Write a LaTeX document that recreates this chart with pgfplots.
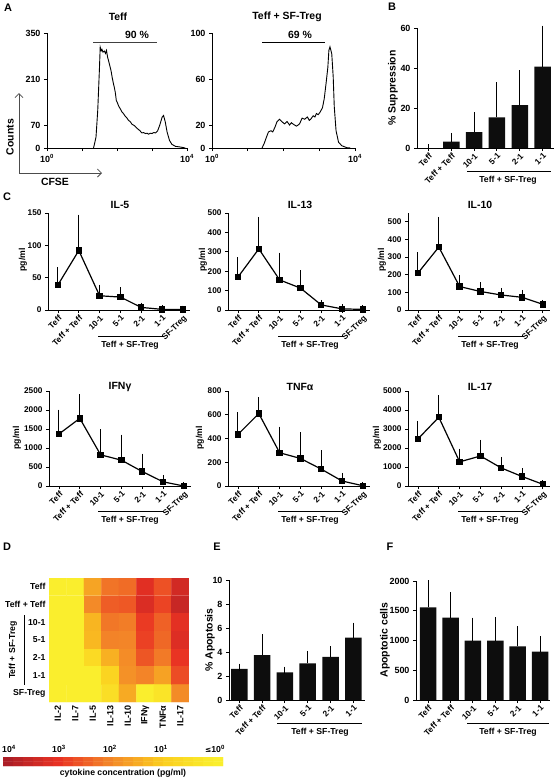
\documentclass[border=0pt]{standalone}
\usepackage{fontspec}
\setmainfont{Liberation Sans}
\newfontfamily\dejavu{DejaVu Sans}
\usepackage{pgfplots}
\pgfplotsset{compat=1.18}
\usetikzlibrary{arrows.meta}
\newcommand{\tf}{\fontsize{9}{10}\selectfont\bfseries}
\newcommand{\tfc}{\fontsize{8.3}{9}\selectfont\bfseries}
\newcommand{\af}{\fontsize{8.7}{10}\selectfont\bfseries}
\newcommand{\ttl}{\fontsize{10.5}{12}\selectfont\bfseries}
\newcommand{\pl}{\fontsize{11}{13}\selectfont\bfseries}
\newcommand{\yl}{\fontsize{10.5}{12}\selectfont\bfseries}
\pgfplotsset{
 base/.style={scale only axis, anchor=north west,
   axis x line*=bottom, axis y line*=left,
   axis line style={line width=1bp, black},
   every tick/.style={line width=0.9bp, black},
   tick align=outside, major tick length=3bp,
   ticklabel style={font=\tf},
   /pgf/number format/assume math mode=true,
   /pgf/number format/1000 sep={},
   clip=false},
 hist/.style={base, xmin=0, xmax=4, xtick={0,...,4},
   xticklabels={10\textsuperscript{0},,,,10\textsuperscript{4}},
   ymin=0, height=115bp},
 cat/.style={base, ticklabel style={font=\tfc}, xtick={0,...,6},
   xticklabels={Teff,Teff + Teff,10-1,5-1,2-1,1-1,SF-Treg},
   xticklabel style={rotate=45, anchor=north east, inner sep=1bp},
   xmin=-0.48, xmax=6.34, ymin=0, width=142bp},
 bcat/.style={base, xtick={0,...,5},
   xticklabels={Teff,Teff + Teff,10-1,5-1,2-1,1-1},
   xticklabel style={rotate=45, anchor=north east, inner sep=1bp, font=\tfc},
   ymin=0},
 lp/.style={black, line width=1.2bp, mark=square*, mark size=2.6bp,
   error bars/.cd, y dir=plus, y explicit,
   error bar style={line width=1bp, black},
   error mark options={line width=1bp, mark size=3.5bp, black}},
 barp/.style={ybar, bar width=16.5bp, bar shift=0pt, fill=black!95, draw=none,
   error bars/.cd, y dir=plus, y explicit,
   error bar style={line width=1bp, black},
   error mark options={line width=1bp, mark size=3.5bp, black}},
 cyto/.style={colormap={cyto}{rgb255=(250,238,45) rgb255=(251,205,30) rgb255=(243,135,40) rgb255=(233,50,35) rgb255=(172,30,38)},
   point meta min=0, point meta max=4}
}
\begin{document}
\begin{tikzpicture}
\useasboundingbox (0,0) rectangle (558bp,-781bp);

% ---------------- Panel A ----------------
\node[font=\pl] at (8bp,-8bp) {A};
\node[font=\ttl] at (118bp,-17bp) {Teff};
\node[font=\ttl] at (287bp,-17bp) {Teff + SF-Treg};
\begin{axis}[hist, at={(47bp,-33bp)}, width=140bp, ymax=350, ytick={0,70,210,350}]
\addplot[black, line width=0.9bp] coordinates {
(1.33,0) (1.40,33) (1.45,115) (1.50,246) (1.52,307) (1.55,296) (1.57,300) (1.60,292) (1.64,295)
(1.67,288) (1.70,297) (1.73,277) (1.76,265) (1.79,252) (1.83,235) (1.86,216) (1.89,200) (1.92,186)
(1.95,170) (1.98,145) (2.01,138) (2.05,127) (2.09,120) (2.14,110) (2.19,104) (2.24,96) (2.28,92)
(2.33,84) (2.38,80) (2.43,72) (2.47,70) (2.52,66) (2.57,60) (2.62,56) (2.66,52) (2.71,46)
(2.76,47) (2.81,44) (2.86,45) (2.90,42) (2.95,45) (3.00,44) (3.05,47) (3.10,46) (3.16,52)
(3.22,69) (3.29,94) (3.33,99) (3.38,79) (3.43,49) (3.50,23) (3.57,11) (3.67,5) (3.81,3) (3.95,0)};
\end{axis}
\begin{axis}[hist, at={(212bp,-33bp)}, width=143bp, ymax=100, ytick={0,20,60,100}]
\addplot[black, line width=0.9bp] coordinates {
(1.40,0) (1.46,4) (1.53,10) (1.58,14) (1.65,15) (1.70,14) (1.76,18) (1.82,23) (1.89,25) (1.95,23)
(2.03,21) (2.10,23) (2.17,20) (2.22,22) (2.26,21) (2.31,20) (2.36,19) (2.41,20) (2.45,21) (2.52,26)
(2.59,25) (2.67,27) (2.72,24) (2.76,25) (2.83,28) (2.88,27) (2.92,30) (2.97,29) (3.02,31) (3.09,35)
(3.14,43) (3.19,56) (3.24,70) (3.27,85) (3.30,88) (3.35,82) (3.39,62) (3.42,36) (3.47,15) (3.54,5)
(3.63,2) (3.77,0.3) (3.87,0)};
\end{axis}
\draw[line width=0.9bp, black!75] (93bp,-42bp) -- (157bp,-42bp);
\node[font=\ttl] at (137bp,-35bp) {90 \%};
\draw[line width=0.9bp, black] (262bp,-42bp) -- (325bp,-42bp);
\node[font=\ttl] at (300bp,-35bp) {69 \%};
\draw[line width=0.8bp, black!70, -{Straight Barb[length=4bp,width=8bp]}] (19bp,-173bp) -- (19bp,-93bp);
\draw[line width=0.8bp, black!70, -{Straight Barb[length=4bp,width=8bp]}] (19bp,-173bp) -- (102bp,-173bp);
\node[font=\yl, rotate=90] at (10bp,-137bp) {Counts};
\node[font=\yl] at (55bp,-182bp) {CFSE};

% ---------------- Panel B ----------------
\node[font=\pl] at (392bp,-7bp) {B};
\begin{axis}[bcat, at={(417bp,-28bp)}, width=137bp, height=120bp, xmin=-0.5, xmax=5.5, ymax=60, ytick={0,20,40,60}]
\addplot[barp] coordinates {(0,0) +- (0,0) (1,3.2) +- (0,2.6) (2,8) +- (0,8) (3,15.3) +- (0,15.7) (4,21.5) +- (0,15.5) (5,40.7) +- (0,18.8)};
\end{axis}
\node[font=\yl, rotate=90] at (393bp,-88bp) {\% Suppression};
\draw[line width=1bp] (467bp,-171bp) -- (551bp,-171bp);
\node[font=\af] at (508bp,-180bp) {Teff + SF-Treg};

% ---------------- Panel C ----------------
\node[font=\pl] at (7bp,-197bp) {C};
% row 1
\begin{axis}[cat, at={(48bp,-213bp)}, height=97bp, ymax=150, ytick={0,50,100,150}]
\addplot[lp] coordinates {(0,39) +- (0,22) (1,92) +- (0,50) (2,22) +- (0,12) (3,20) +- (0,10) (4,4) +- (0,2) (5,1) +- (0,1) (6,1) +- (0,0.5)};
\end{axis}
\begin{axis}[cat, at={(228bp,-213bp)}, height=97bp, ymax=500, ytick={0,100,...,500}]
\addplot[lp] coordinates {(0,170) +- (0,85) (1,315) +- (0,147) (2,155) +- (0,123) (3,113) +- (0,74) (4,26) +- (0,8) (5,6) +- (0,6) (6,3) +- (0,3)};
\end{axis}
\begin{axis}[cat, at={(408bp,-213bp)}, height=97bp, ymax=550, ytick={0,100,...,500}]
\addplot[lp] coordinates {(0,210) +- (0,98) (1,357) +- (0,151) (2,133) +- (0,47) (3,105) +- (0,32) (4,85) +- (0,20) (5,72) +- (0,23) (6,32) +- (0,6)};
\end{axis}
% row 2
\begin{axis}[cat, at={(49bp,-391bp)}, height=95bp, ymax=2500, ytick={0,500,...,2500}]
\addplot[lp] coordinates {(0,1370) +- (0,550) (1,1780) +- (0,540) (2,820) +- (0,580) (3,680) +- (0,580) (4,380) +- (0,380) (5,110) +- (0,90) (6,0) +- (0,15)};
\end{axis}
\begin{axis}[cat, at={(228bp,-391bp)}, height=95bp, ymax=800, ytick={0,200,...,800}]
\addplot[lp] coordinates {(0,435) +- (0,155) (1,610) +- (0,110) (2,280) +- (0,190) (3,232) +- (0,193) (4,142) +- (0,128) (5,42) +- (0,38) (6,2) +- (0,3)};
\end{axis}
\begin{axis}[cat, at={(408bp,-391bp)}, height=95bp, ymax=5000, ytick={0,1000,...,5000}]
\addplot[lp] coordinates {(0,2480) +- (0,770) (1,3620) +- (0,980) (2,1270) +- (0,510) (3,1580) +- (0,670) (4,950) +- (0,400) (5,500) +- (0,260) (6,90) +- (0,40)};
\end{axis}
\foreach \L/\T/\Y/\B/\P/\name in {48/205/260/336/23/IL-5, 228/205/260/336/203/IL-13, 408/205/260/336/382/IL-10, 48/387/438/511/17/IFNγ, 228/387/438/511/200/TNFα, 408/387/438/511/377/IL-17}{
  \node[font=\ttl] at (\L bp+72bp,-\T bp) {\name};
  \node[font=\af, rotate=90] at (\P bp,-\Y bp) {pg/ml};
  \draw[line width=1bp] (\L bp+50bp,-\B bp) -- (\L bp+115bp,-\B bp);
  \node[font=\af] at (\L bp+82bp,-\B bp-9bp) {Teff + SF-Treg};
}

% ---------------- Panel D ----------------
\node[font=\pl] at (7bp,-547bp) {D};
\begin{axis}[cyto, scale only axis, anchor=north west, at={(49bp,-578bp)}, width=140bp, height=124bp,
  xmin=-0.5, xmax=7.5, ymin=-0.5, ymax=6.5, y dir=reverse, enlargelimits=false,
  axis line style={draw=none}, major tick length=0pt,
  xtick={0,...,7}, xticklabels={IL-2,IL-7,IL-5,IL-13,IL-10,IFNγ,TNFα,IL-17},
  xticklabel style={rotate=90, anchor=east, font=\fontsize{9}{10}\selectfont\bfseries},
  ytick={0,...,6}, yticklabels={Teff,Teff + Teff,10-1,5-1,2-1,1-1,SF-Treg},
  yticklabel style={font=\af}]
\addplot[matrix plot*, mesh/cols=8, point meta=explicit] table[x=x, y=y, meta=c] {
x y c
0 0 0
1 0 0
2 0 1.59
3 0 2.23
4 0 2.32
5 0 3.14
6 0 2.64
7 0 3.39
0 1 0
1 1 0
2 1 1.96
3 1 2.50
4 1 2.55
5 1 3.25
6 1 2.79
7 1 3.56
0 2 0
1 2 0
2 2 1.34
3 2 2.19
4 2 2.12
5 2 2.91
6 2 2.45
7 2 3.10
0 3 0
1 3 0
2 3 1.30
3 3 2.05
4 3 2.02
5 3 2.83
6 3 2.37
7 3 3.20
0 4 0
1 4 0
2 4 0.60
3 4 1.41
4 4 1.93
5 4 2.58
6 4 2.15
7 4 2.98
0 5 0
1 5 0
2 5 0.00
3 5 0.78
4 5 1.86
5 5 2.04
6 5 1.62
7 5 2.70
0 6 0
1 6 0
2 6 0.00
3 6 0.48
4 6 1.50
5 6 0.00
6 6 0.30
7 6 1.95
};
\end{axis}
\draw[line width=1bp] (24bp,-615bp) -- (24bp,-685bp);
\node[font=\af, rotate=90] at (13bp,-650bp) {Teff + SF-Treg};
% colour bar
\begin{axis}[cyto, scale only axis, anchor=north west, at={(3bp,-757bp)}, width=220bp, height=9bp,
  xmin=-0.5, xmax=21.5, ymin=-0.5, ymax=1.5, enlargelimits=false, hide axis]
\addplot[matrix plot*, mesh/cols=22, point meta=explicit] table[x=x, y=y, meta=c] {
x y c
0 0 4.00
1 0 3.81
2 0 3.61
3 0 3.42
4 0 3.22
5 0 3.03
6 0 2.83
7 0 2.64
8 0 2.45
9 0 2.25
10 0 2.06
11 0 1.86
12 0 1.67
13 0 1.48
14 0 1.28
15 0 1.09
16 0 0.89
17 0 0.70
18 0 0.50
19 0 0.31
20 0 0.12
21 0 0.00
0 1 4.00
1 1 3.81
2 1 3.61
3 1 3.42
4 1 3.22
5 1 3.03
6 1 2.83
7 1 2.64
8 1 2.45
9 1 2.25
10 1 2.06
11 1 1.86
12 1 1.67
13 1 1.48
14 1 1.28
15 1 1.09
16 1 0.89
17 1 0.70
18 1 0.50
19 1 0.31
20 1 0.12
21 1 0.00
};
\end{axis}
\node[font=\af] at (9bp,-749bp) {10\textsuperscript{4}};
\node[font=\af] at (59bp,-749bp) {10\textsuperscript{3}};
\node[font=\af] at (110bp,-749bp) {10\textsuperscript{2}};
\node[font=\af] at (161bp,-749bp) {10\textsuperscript{1}};
\node[font=\af] at (215bp,-749bp) {{\dejavu\fontsize{7.5}{9}\selectfont ≤}10\textsuperscript{0}};
\node[font=\af] at (123bp,-773bp) {cytokine concentration (pg/ml)};

% ---------------- Panel E ----------------
\node[font=\pl] at (217bp,-547bp) {E};
\begin{axis}[bcat, at={(229bp,-580bp)}, width=136bp, height=120bp, xmin=-0.45, xmax=5.51, ymax=10, ytick={0,2,...,10}]
\addplot[barp] coordinates {(0,2.6) +- (0,0.15) (1,3.75) +- (0,1.45) (2,2.3) +- (0,0.2) (3,3.05) +- (0,0.75) (4,3.6) +- (0,0.6) (5,5.2) +- (0,0.95)};
\end{axis}
\node[font=\yl, rotate=90] at (210bp,-640bp) {\% Apoptosis};
\draw[line width=1bp] (277bp,-723bp) -- (362bp,-723bp);
\node[font=\af] at (320bp,-732bp) {Teff + SF-Treg};

% ---------------- Panel F ----------------
\node[font=\pl] at (390bp,-547bp) {F};
\begin{axis}[bcat, at={(416bp,-581bp)}, width=134bp, height=119bp, xmin=-0.54, xmax=5.44, ymax=2000, ytick={0,500,...,2000}]
\addplot[barp] coordinates {(0,1555) +- (0,395) (1,1385) +- (0,370) (2,1000) +- (0,325) (3,1000) +- (0,335) (4,900) +- (0,285) (5,815) +- (0,195)};
\end{axis}
\node[font=\yl, rotate=90] at (385bp,-640bp) {Apoptotic cells};
\draw[line width=1bp] (467bp,-723bp) -- (549bp,-723bp);
\node[font=\af] at (508bp,-732bp) {Teff + SF-Treg};
\end{tikzpicture}
\end{document}
